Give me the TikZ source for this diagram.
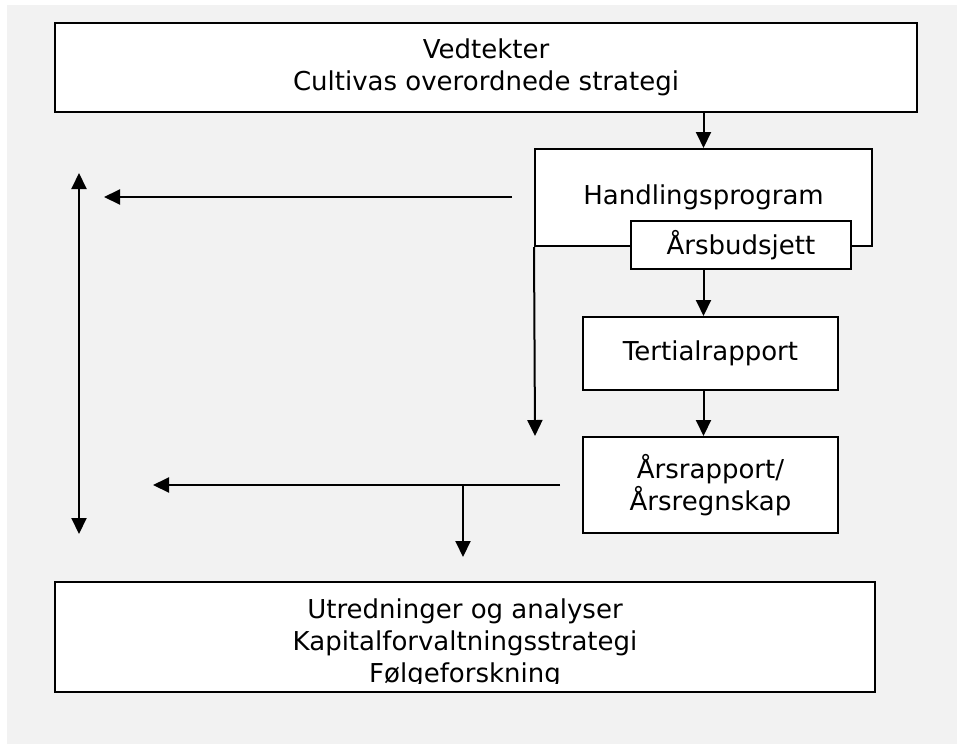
\documentclass[tikz,border=0pt]{standalone}
\usepackage{fontspec}
\setmainfont{DejaVu Sans}
\usepackage{tikz}
\usetikzlibrary{positioning,arrows.meta}
\definecolor{bggray}{RGB}{242,242,242}

\begin{document}
\begin{tikzpicture}[x=1pt,y=-1pt]
\tikzset{box/.style={rectangle,draw=black,line width=2pt,fill=white,align=center,inner sep=0pt,
  font=\fontsize{26}{32}\selectfont}}
\tikzset{arr/.style={line width=2pt,-{Triangle[length=16pt,width=15pt]}}}

  \useasboundingbox (0,0) rectangle (957,744);
  \fill[bggray] (7,5) rectangle (957,744);

  \node[box,minimum width=862pt,minimum height=89pt] (vedt) at (486,67.5)  {Vedtekter\\Cultivas overordnede strategi};
  \node[box,minimum width=337pt,minimum height=97pt] (hp) at (703.5,197.5)  {Handlingsprogram};
  \node[box,minimum width=220pt,minimum height=48pt] (budsj) at (741,245)  {Årsbudsjett};
  \node[box,minimum width=255pt,minimum height=73pt] (tert) at (710.5,353.5)  {Tertialrapport};
  \node[box,minimum width=255pt,minimum height=96pt] (aars) at (710.5,485)  {Årsrapport/\\Årsregnskap};
  \node[box,minimum width=820pt,minimum height=110pt] (utr) at (465,637)  {};
  \begin{scope}
    \clip (55,582) rectangle (875,683);
    \node[box,draw=none,fill=none] (utrtext) at (465,643)  {Utredninger og analyser\\Kapitalforvaltningsstrategi\\Følgeforskning};
  \end{scope}

  \coordinate (hpout) at (512,197);
  \coordinate (hpleft) at (104,197);
  \coordinate (lt) at (79,173);
  \coordinate (lb) at (79,534);
  \coordinate (hpdown) at (535,436);
  \coordinate (aout) at (560,485);
  \coordinate (aleft) at (153,485);
  \coordinate (br) at (463,485);
  \coordinate (utrin) at (463,557);

  \draw[arr] (vedt.south -| hp.north) -- (hp.north);
  \draw[arr] (budsj.south -| hp.north) -- (tert.north -| hp.north);
  \draw[arr] (tert.south -| hp.north) -- (aars.north -| hp.north);
  \draw[arr] (hpout) -- (hpleft);
  \draw[arr,{Triangle[length=16pt,width=15pt]}-{Triangle[length=16pt,width=15pt]}] (lt) -- (lb);
  \draw[arr] (hp.south west) -- (hpdown);
  \draw[arr] (aout) -- (aleft);
  \draw[arr] (br) -- (utrin);
\end{tikzpicture}
\end{document}
